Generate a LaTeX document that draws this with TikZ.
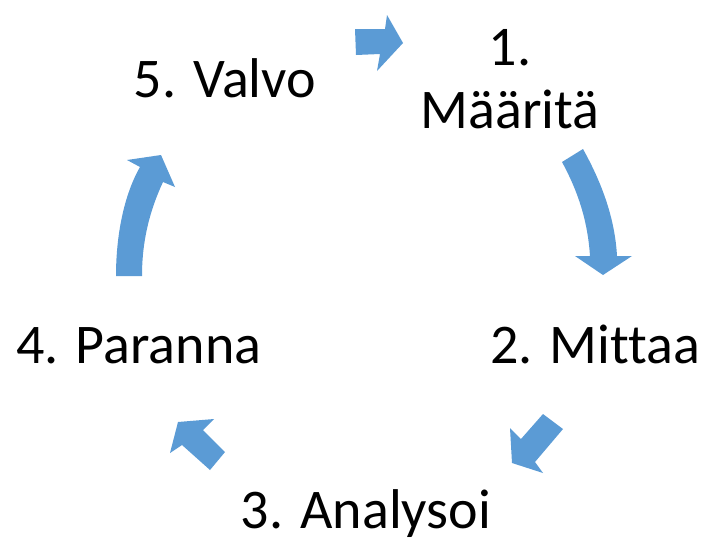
\documentclass[tikz,border=0pt]{standalone}
\usepackage{fontspec}
\setmainfont{Carlito}[Ligatures={NoCommon}]
\usetikzlibrary{positioning}
\definecolor{cycleblue}{HTML}{5B9BD5}
\tikzstyle{step label}=[inner sep=0pt,anchor=base,align=center,font=\fontsize{56}{63}\selectfont]
\tikzstyle{cycle arrow}=[fill=cycleblue,draw=none]

\begin{document}
\begin{tikzpicture}[x=1pt,y=-1pt]
\useasboundingbox (0,0) rectangle (705,541);
% the five steps (base is the last line)
\node [step label] (define) at (510,128) {1.\\Määritä};
\node [step label] (measure) at (595,363) {2. Mittaa};
\node [step label] (analyse) at (366,528) {3. Analysoi};
\node [step label] (improve) at (139,363) {4. Paranna};
\node [step label] (control) at (225,97) {5. Valvo};
% arrows between the steps
\fill [cycle arrow] (355,29) -- (385,29) -- (387,15) -- (403,43) -- (377,71) -- (380,54) -- (356,55) -- cycle;
\fill [cycle arrow] (562,162) -- (583,149) .. controls (603,185) and (615,220) .. (617,256)
	-- (632,256) -- (603,275) -- (575,256) -- (590,256) .. controls (588,225) and (580,195) .. (562,162) -- cycle;
\fill [cycle arrow] (543,414) -- (563,429) -- (535,462) -- (543,473) -- (512,463) -- (510,428) -- (521,439) -- cycle;
\fill [cycle arrow] (178,422) -- (214,419) -- (203,430) -- (225,452) -- (210,470) -- (182,445) -- (170,453) -- cycle;
\fill [cycle arrow] (116,276) .. controls (116,235) and (124,195) .. (140,167) -- (127,160) -- (161,155) -- (175,187)
	-- (163,182) .. controls (150,210) and (142,240) .. (142,276) -- cycle;
\end{tikzpicture}
\end{document}
